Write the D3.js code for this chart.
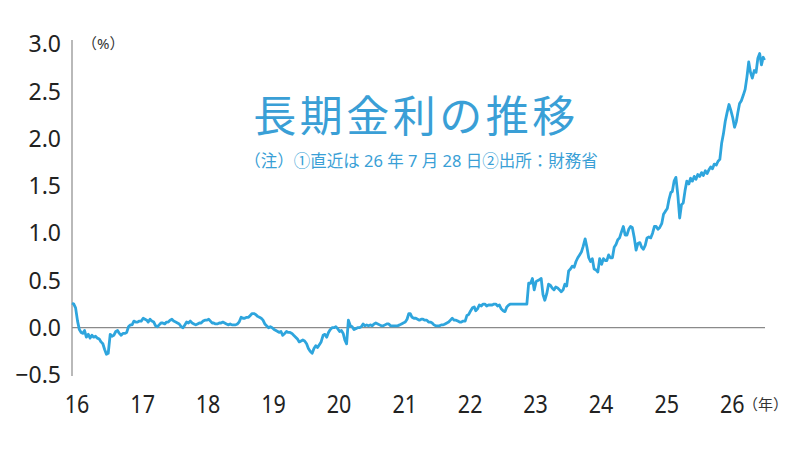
<!DOCTYPE html>
<html>
<head>
<meta charset="utf-8">
<script src="https://cdn.jsdelivr.net/npm/d3@7"></script>
<style>
  body { margin: 0; background: #fff; }
  svg { display: block; }
  text { font-family: "Noto Sans", "Noto Sans CJK JP", sans-serif; }
</style>
</head>
<body>
<svg id="chart" width="800" height="450"></svg>
<script>
// 10年国債利回り (%), 各月 1日・11日・21日ごとの値
const y2016 = [0.26, 0.25, 0.21, 0.07, -0.02, -0.05, -0.06, -0.03, -0.10, -0.07, -0.11, -0.08,
  -0.10, -0.09, -0.11, -0.12, -0.15, -0.17, -0.23, -0.28, -0.27, -0.07, -0.09, -0.08,
  -0.04, -0.03, -0.06, -0.08, -0.06, -0.06, -0.05, 0.01, 0.03, 0.03, 0.07, 0.06];
const y2017 = [0.06, 0.07, 0.07, 0.10, 0.09, 0.08, 0.06, 0.09, 0.07, 0.06, 0.02, 0.01,
  0.03, 0.05, 0.05, 0.04, 0.06, 0.06, 0.08, 0.09, 0.07, 0.06, 0.05, 0.04,
  0.01, 0.00, 0.03, 0.06, 0.05, 0.07, 0.05, 0.04, 0.03, 0.04, 0.05, 0.05];
const y2018 = [0.07, 0.08, 0.08, 0.09, 0.07, 0.05, 0.05, 0.04, 0.04, 0.05, 0.05, 0.06,
  0.05, 0.04, 0.03, 0.04, 0.03, 0.03, 0.03, 0.04, 0.06, 0.11, 0.10, 0.10,
  0.11, 0.11, 0.13, 0.15, 0.15, 0.14, 0.12, 0.11, 0.10, 0.08, 0.04, 0.02];
const y2019 = [0.00, 0.01, 0.00, -0.02, -0.03, -0.04, -0.05, -0.04, -0.08, -0.06, -0.04, -0.05,
  -0.05, -0.06, -0.08, -0.10, -0.12, -0.15, -0.14, -0.13, -0.14, -0.17, -0.22, -0.25,
  -0.27, -0.22, -0.19, -0.21, -0.18, -0.15, -0.08, -0.07, -0.10, -0.05, -0.02, 0.00];
const y2020 = [0.00, 0.01, -0.01, -0.04, -0.03, -0.06, -0.13, -0.17, 0.08, 0.02, 0.01, -0.02,
  -0.01, 0.00, 0.00, 0.01, 0.04, 0.02, 0.03, 0.02, 0.03, 0.02, 0.04, 0.05,
  0.04, 0.03, 0.02, 0.02, 0.03, 0.04, 0.04, 0.02, 0.02, 0.02, 0.02, 0.02];
const y2021 = [0.03, 0.04, 0.05, 0.06, 0.09, 0.15, 0.15, 0.11, 0.10, 0.10, 0.09, 0.08,
  0.09, 0.09, 0.08, 0.08, 0.06, 0.06, 0.05, 0.03, 0.02, 0.02, 0.02, 0.03,
  0.03, 0.04, 0.05, 0.06, 0.08, 0.10, 0.08, 0.08, 0.07, 0.06, 0.06, 0.07];
const y2022 = [0.07, 0.13, 0.14, 0.18, 0.21, 0.22, 0.18, 0.20, 0.24, 0.23, 0.25, 0.25,
  0.23, 0.24, 0.24, 0.24, 0.25, 0.25, 0.23, 0.24, 0.20, 0.18, 0.17, 0.22,
  0.24, 0.25, 0.25, 0.25, 0.25, 0.25, 0.25, 0.25, 0.25, 0.25, 0.25, 0.47];
const y2023 = [0.47, 0.52, 0.40, 0.49, 0.50, 0.51, 0.52, 0.35, 0.29, 0.36, 0.46, 0.45,
  0.42, 0.40, 0.43, 0.42, 0.40, 0.38, 0.40, 0.46, 0.44, 0.60, 0.62, 0.65,
  0.64, 0.70, 0.74, 0.77, 0.80, 0.86, 0.94, 0.85, 0.74, 0.70, 0.73, 0.62];
const y2024 = [0.61, 0.59, 0.73, 0.67, 0.73, 0.71, 0.71, 0.77, 0.74, 0.74, 0.85, 0.88,
  0.93, 0.95, 1.01, 1.07, 0.98, 0.98, 1.04, 1.07, 1.06, 0.95, 0.82, 0.89,
  0.90, 0.85, 0.83, 0.87, 0.95, 0.96, 0.95, 1.00, 1.07, 1.07, 1.04, 1.06];
const y2025 = [1.10, 1.20, 1.23, 1.26, 1.36, 1.43, 1.44, 1.55, 1.59, 1.40, 1.16, 1.30,
  1.32, 1.45, 1.55, 1.52, 1.58, 1.55, 1.60, 1.57, 1.62, 1.60, 1.64, 1.61,
  1.66, 1.63, 1.67, 1.70, 1.68, 1.73, 1.72, 1.76, 1.78, 1.95, 2.05, 2.18];
const y2026 = [2.28, 2.36, 2.30, 2.22, 2.12, 2.18, 2.27, 2.37, 2.40, 2.46, 2.52, 2.65,
  2.81, 2.70, 2.64, 2.72, 2.70, 2.85, 2.90, 2.78, 2.86];
const latest = { date: "2026-07-28", value: 2.83 };

const years = [2016, 2017, 2018, 2019, 2020, 2021, 2022, 2023, 2024, 2025, 2026];
const series = [y2016, y2017, y2018, y2019, y2020, y2021, y2022, y2023, y2024, y2025, y2026];
const yTicks = [-0.5, 0, 0.5, 1.0, 1.5, 2.0, 2.5, 3.0];
const xLabels = ["16", "17", "18", "19", "20", "21", "22", "23", "24", "25", "26"];

const title = "長期金利の推移";
const note = "（注）①直近は 26 年 7 月 28 日②出所：財務省";

const days = [1, 11, 21];
let data = [];
series.forEach((vals, i) => {
  vals.forEach((v, j) => {
    data.push({ date: new Date(years[i], Math.floor(j / 3), days[j % 3]), value: v });
  });
});
data.push({ date: d3.timeParse("%Y-%m-%d")(latest.date), value: latest.value });

const svg = d3.select("#chart");

const x = d3.scaleTime()
  .domain([new Date(2016, 0, 1), d3.timeParse("%Y-%m-%d")(latest.date)])
  .range([72, 764.5]);
const y = d3.scaleLinear().domain([-0.5, 3.0]).range([375, 44]);

// y axis line
svg.append("line")
  .attr("x1", 72).attr("x2", 72)
  .attr("y1", 40).attr("y2", 376)
  .attr("stroke", "#8a8a8a").attr("stroke-width", 1.2);

// zero line
svg.append("line")
  .attr("x1", 72).attr("x2", 765)
  .attr("y1", y(0)).attr("y2", y(0))
  .attr("stroke", "#8a8a8a").attr("stroke-width", 1.2);

// y labels
svg.append("g").selectAll("text")
  .data(yTicks)
  .enter()
  .append("text")
  .attr("x", 61)
  .attr("y", d => y(d))
  .attr("dy", "0.36em")
  .attr("text-anchor", "end")
  .attr("font-size", 23)
  .attr("fill", "#222")
  .text(d => d3.format(".1f")(d));

// x labels (narrow)
svg.append("g").selectAll("text")
  .data(xLabels)
  .enter()
  .append("text")
  .attr("transform", (d, i) => `translate(${x(new Date(years[i], 0, 1)) + 5},413) scale(0.86,1)`)
  .attr("text-anchor", "middle")
  .attr("font-size", 25)
  .attr("fill", "#222")
  .text(d => d);

svg.append("text")
  .attr("x", 82).attr("y", 49)
  .attr("font-size", 15).attr("fill", "#333")
  .text("（%）");

svg.append("text")
  .attr("x", 743).attr("y", 410)
  .attr("font-size", 15).attr("fill", "#333")
  .text("（年）");

// title + note
svg.append("text")
  .attr("x", 416).attr("y", 132)
  .attr("text-anchor", "middle")
  .attr("font-size", 43)
  .attr("letter-spacing", 3.5)
  .attr("fill", "#3a9fd6")
  .text(title);

svg.append("text")
  .attr("x", 421).attr("y", 167)
  .attr("text-anchor", "middle")
  .attr("font-size", 16.5)
  .attr("fill", "#3a9fd6")
  .text(note);

// line
const line = d3.line()
  .x(d => x(d.date))
  .y(d => y(d.value));

svg.append("path")
  .datum(data)
  .attr("d", line)
  .attr("fill", "none")
  .attr("stroke", "#2ea5dd")
  .attr("stroke-width", 2.8)
  .attr("stroke-linejoin", "round");
</script>
</body>
</html>
